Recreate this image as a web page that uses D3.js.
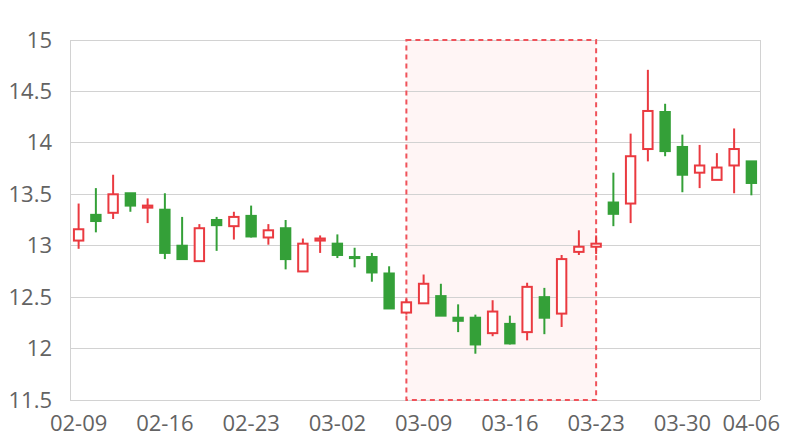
<!DOCTYPE html>
<html><head><meta charset="utf-8">
<script src="https://cdn.jsdelivr.net/npm/d3@7"></script>
<style>body{margin:0;background:#fff}svg{display:block}</style>
</head><body><svg id="c" width="800" height="440"></svg>
<script>
const dates = ["02-09","02-10","02-11","02-12","02-13","02-16","02-17","02-18","02-19","02-20",
"02-23","02-24","02-25","02-26","02-27","03-02","03-03","03-04","03-05","03-06",
"03-09","03-10","03-11","03-12","03-13","03-16","03-17","03-18","03-19","03-20",
"03-23","03-24","03-25","03-26","03-27","03-30","03-31","04-01","04-02","04-06"];
const opens  = [13.05,13.30,13.32,13.51,13.37,13.35,13.00,12.85,13.25,13.19,
13.29,13.08,13.17,12.75,13.05,13.02,12.89,12.89,12.73,12.35,
12.44,12.51,12.30,12.30,12.15,12.24,12.16,12.50,12.34,12.94,
12.99,13.42,13.41,13.94,14.30,13.96,13.71,13.64,13.78,13.82];
const closes = [13.16,13.24,13.50,13.39,13.39,12.93,12.87,13.17,13.20,13.28,
13.09,13.15,12.87,13.02,13.07,12.91,12.88,12.74,12.39,12.45,
12.63,12.32,12.27,12.04,12.36,12.05,12.60,12.30,12.87,12.99,
13.02,13.31,13.87,14.31,13.92,13.69,13.78,13.76,13.94,13.61];
const lows   = [12.97,13.13,13.26,13.33,13.22,12.87,12.87,12.85,12.95,13.06,
13.08,13.01,12.77,12.75,12.93,12.88,12.79,12.65,12.39,12.33,
12.44,12.32,12.16,11.95,12.12,12.04,12.08,12.14,12.21,12.91,
12.92,13.19,13.22,13.82,13.87,13.52,13.56,13.64,13.51,13.49];
const highs  = [13.41,13.56,13.69,13.51,13.46,13.51,13.28,13.21,13.28,13.33,
13.39,13.21,13.25,13.07,13.10,13.11,12.98,12.93,12.80,12.48,
12.72,12.63,12.43,12.33,12.47,12.32,12.64,12.59,12.91,13.15,
13.10,13.71,14.09,14.71,14.38,14.08,13.98,13.90,14.14,13.82];
const yTicks = [11.5,12,12.5,13,13.5,14,14.5,15];
const xTickLabels = ["02-09","02-16","02-23","03-02","03-09","03-16","03-23","03-30","04-06"];
const markRange = ["03-06","03-23"];

const RED = "#ea3a40", GREEN = "#34a038", TXT = "#636363", GRID = "#d2d2d2";
const FONT = "'Open Sans', 'Noto Sans', sans-serif";
const L = 70, R = 760, T = 40, B = 400;
const svg = d3.select("#c");
const x = d3.scaleBand().domain(dates).range([L, R]).padding(0);
const y = d3.scaleLinear().domain([11.5, 15]).range([B, T]);
const bw = x.bandwidth();
const cx = d => x(d) + bw / 2;

// mark area fill
const mx0 = cx(markRange[0]), mx1 = cx(markRange[1]);
svg.append("rect").attr("x", mx0).attr("y", T).attr("width", mx1 - mx0).attr("height", B - T)
  .attr("fill", "#fff5f5");

// grid
svg.append("g").selectAll("line").data(yTicks).join("line")
  .attr("x1", L).attr("x2", R).attr("y1", d => y(d)).attr("y2", d => y(d))
  .attr("stroke", GRID).attr("stroke-width", 1).attr("shape-rendering", "crispEdges");
svg.append("line").attr("x1", L).attr("x2", L).attr("y1", T).attr("y2", B)
  .attr("stroke", GRID).attr("shape-rendering", "crispEdges");
svg.append("line").attr("x1", R).attr("x2", R).attr("y1", T).attr("y2", B)
  .attr("stroke", GRID).attr("shape-rendering", "crispEdges");

// mark area border
svg.append("rect").attr("x", mx0).attr("y", T).attr("width", mx1 - mx0).attr("height", B - T)
  .attr("fill", "none").attr("stroke", "#f0525a").attr("stroke-width", 2)
  .attr("stroke-dasharray", "5,4");

// y labels
const yAxis = d3.axisLeft(y).tickValues(yTicks).tickSize(0).tickPadding(18).tickFormat(d3.format("~g"));
const gy = svg.append("g").attr("transform", `translate(${L},0)`).call(yAxis);
gy.select(".domain").remove();
gy.selectAll("text").attr("font-family", FONT).attr("font-size", 22).attr("fill", TXT);

// x labels
const xAxis = d3.axisBottom(x).tickValues(xTickLabels).tickSize(0).tickPadding(15);
const gx = svg.append("g").attr("transform", `translate(0,${B})`).call(xAxis);
gx.select(".domain").remove();
gx.selectAll("text").attr("font-family", FONT).attr("font-size", 22).attr("fill", TXT);
// keep last label inside the canvas
gx.selectAll(".tick").filter(d => d === "04-06").select("text").attr("text-anchor", "end").attr("dx", "1.3em");

// candles
const data = dates.map((d, i) => ({d, o: opens[i], c: closes[i], l: lows[i], h: highs[i]}));
const bodyW = 11.4;
const g = svg.append("g");
const cg = g.selectAll("g").data(data).join("g");
cg.append("line").attr("x1", d => cx(d.d)).attr("x2", d => cx(d.d))
  .attr("y1", d => y(d.h)).attr("y2", d => y(d.l))
  .attr("stroke", d => d.c >= d.o ? RED : GREEN).attr("stroke-width", 2);
cg.each(function(d) {
  const sel = d3.select(this);
  const top = y(Math.max(d.o, d.c)), bot = y(Math.min(d.o, d.c));
  const up = d.c >= d.o;
  if (up) {
    sel.append("rect").attr("x", cx(d.d) - bodyW / 2 + 1).attr("y", top)
      .attr("width", bodyW - 2).attr("height", Math.max(bot - top, 1))
      .attr("fill", "#fff").attr("stroke", RED).attr("stroke-width", 2);
  } else {
    sel.append("rect").attr("x", cx(d.d) - bodyW / 2).attr("y", top - 1)
      .attr("width", bodyW).attr("height", Math.max(bot - top + 2, 2))
      .attr("fill", GREEN);
  }
});
</script></body></html>
